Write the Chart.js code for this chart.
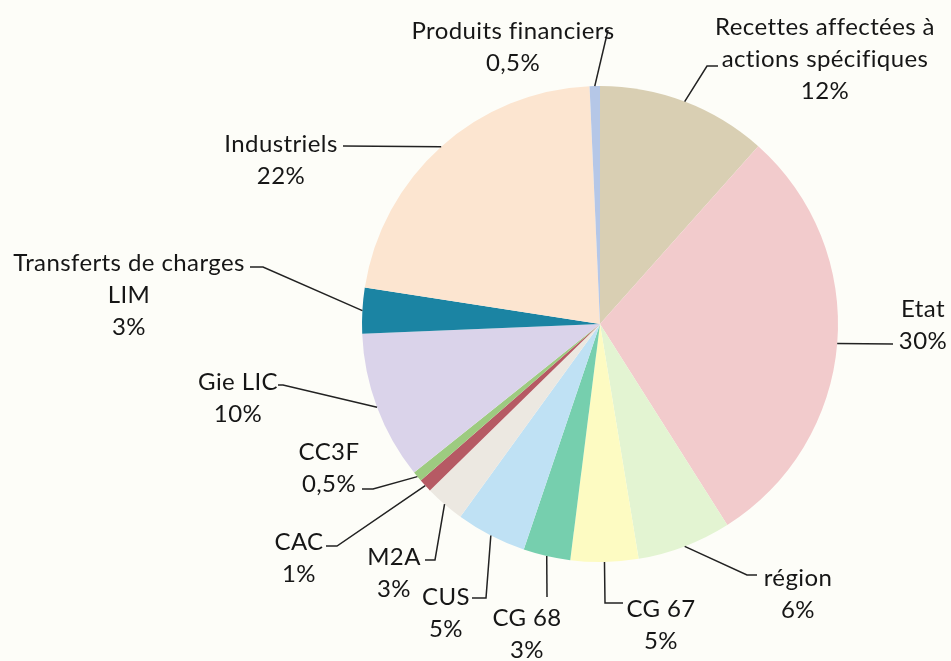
<!DOCTYPE html>
<html>
<head>
<meta charset="utf-8">
<script src="https://cdn.jsdelivr.net/npm/chart.js@4"></script>
<style>
  html, body { margin: 0; padding: 0; background: #fdfdf8; }
  canvas { display: block; }
</style>
</head>
<body>
<canvas id="pie" width="951" height="661"></canvas>
<script>
// slices, clockwise from 12 o'clock
const names = [
  "Recettes affectées à\nactions spécifiques", "Etat", "région", "CG 67", "CG 68",
  "CUS", "M2A", "CAC", "CC3F", "Gie LIC", "Transferts de charges\nLIM",
  "Industriels", "Produits financiers"
];
// shares (%)
const shares = [11.6, 29.5, 6.4, 4.6, 3.2, 4.8, 2.7, 0.9, 0.7, 10.1, 3.1, 21.9, 0.7];
// percentages printed on the chart
const pctText = ["12%", "30%", "6%", "5%", "3%", "5%", "3%", "1%", "0,5%", "10%", "3%", "22%", "0,5%"];

const colors = [
  "#d9cfb3", "#f2cbcc", "#e3f4d2", "#fdfbc2", "#76cfae", "#bfe1f4", "#ece8e1",
  "#b65a64", "#9dcb80", "#dad3ea", "#1b84a3", "#fce5d0", "#b5c7e7"
];

// label placement: text centre x, first line centre y, leader elbow points
const labelLayout = [
  { x: 825, y: 27, path: [[707, 66], [718, 66]] },
  { x: 923, y: 309, path: [[893, 344]] },
  { x: 798, y: 578, path: [[747, 575], [757, 575]] },
  { x: 661, y: 609, path: [[605, 603], [623, 603]] },
  { x: 527, y: 618, path: [[547, 597]] },
  { x: 446, y: 597, path: [[486, 598], [472, 598]] },
  { x: 394, y: 557, path: [[435, 560], [425, 560]] },
  { x: 299, y: 542, path: [[337, 546], [326, 546]] },
  { x: 329, y: 452, path: [[373, 489], [362, 489]] },
  { x: 238, y: 382, path: [[283, 385], [278, 385]] },
  { x: 129, y: 263, path: [[263, 267], [250, 267]] },
  { x: 281, y: 144, path: [[343, 146]] },
  { x: 513, y: 31, path: [[608, 30]] }
];

const lineGap = 32;

const calloutPlugin = {
  id: "callouts",
  afterDraw(chart) {
    const ctx = chart.ctx;
    const arcs = chart.getDatasetMeta(0).data;
    ctx.save();
    ctx.strokeStyle = "#222";
    ctx.lineWidth = 1.5;
    ctx.fillStyle = "#161616";
    ctx.font = "24px Lato";
    ctx.letterSpacing = "0.4px";
    ctx.textAlign = "center";
    ctx.textBaseline = "middle";
    arcs.forEach((arc, i) => {
      const mid = (arc.startAngle + arc.endAngle) / 2;
      const ax = arc.x + Math.cos(mid) * arc.outerRadius;
      const ay = arc.y + Math.sin(mid) * arc.outerRadius;
      const lay = labelLayout[i];
      ctx.beginPath();
      ctx.moveTo(ax, ay);
      lay.path.forEach(p => ctx.lineTo(p[0], p[1]));
      ctx.stroke();
      const lines = names[i].split("\n").concat(pctText[i]);
      lines.forEach((t, k) => ctx.fillText(t, lay.x, lay.y + k * lineGap));
    });
    ctx.restore();
  }
};

new Chart(document.getElementById("pie"), {
  type: "pie",
  data: {
    labels: names,
    datasets: [{
      data: shares,
      backgroundColor: colors,
      borderWidth: 0,
      hoverOffset: 0
    }]
  },
  options: {
    responsive: false,
    animation: false,
    devicePixelRatio: 1,
    layout: { padding: { left: 362, right: 113, top: 86, bottom: 99 } },
    plugins: {
      legend: { display: false },
      tooltip: { enabled: false }
    }
  },
  plugins: [calloutPlugin]
});
</script>
</body>
</html>
